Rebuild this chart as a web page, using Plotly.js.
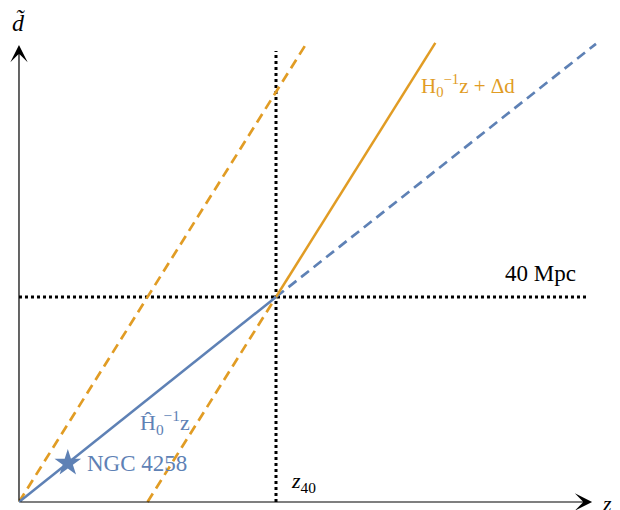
<!DOCTYPE html>
<html>
<head>
<meta charset="utf-8">
<script src="https://cdn.plot.ly/plotly-3.0.1.min.js"></script>
<style>body{margin:0;background:#fff}</style>
</head>
<body>
<div id="chart" style="width:620px;height:510px"></div>
<script>
// units: z in z40, d in 40 Mpc
const blueSolidZ = [0, 1];
const blueSolidD = [0, 1];
const blueDashZ = [1, 2.245];
const blueDashD = [1, 2.235];
const orangeSolidZ = [1, 1.62];
const orangeSolidD = [1, 2.24];
const orangeDashRightZ = [0.5, 1];
const orangeDashRightD = [0, 1];
const orangeDashLeftZ = [0, 1.12];
const orangeDashLeftD = [0, 2.24];
const vDotZ = [1, 1];
const vDotD = [0, 2.2];
const hDotZ = [0, 2.215];
const hDotD = [1, 1];
const ngcZ = [0.19];
const ngcD = [0.19];

const blue = '#5E81B5';
const orange = '#E19C24';
const serif = 'Liberation Serif, Times New Roman, serif';

const data = [
  { x: vDotZ, y: vDotD, mode: 'lines', line: { color: '#000', width: 3, dash: 'dot' } },
  { x: hDotZ, y: hDotD, mode: 'lines', line: { color: '#000', width: 3, dash: 'dot' } },
  { x: orangeDashLeftZ, y: orangeDashLeftD, mode: 'lines', line: { color: orange, width: 2.7, dash: '10px,6px' } },
  { x: orangeDashRightZ, y: orangeDashRightD, mode: 'lines', line: { color: orange, width: 2.7, dash: '10px,6px' } },
  { x: blueDashZ, y: blueDashD, mode: 'lines', line: { color: blue, width: 2.7, dash: '10px,6px' } },
  { x: orangeSolidZ, y: orangeSolidD, mode: 'lines', line: { color: orange, width: 2.5 } },
  { x: blueSolidZ, y: blueSolidD, mode: 'lines', line: { color: blue, width: 2.5 } },
  { x: ngcZ, y: ngcD, mode: 'markers', marker: { symbol: 'star', size: 20, color: blue } }
];

function label(x, y, text, color, size, xanchor) {
  return { x: x, y: y, text: text, showarrow: false, xanchor: xanchor || 'left', yanchor: 'middle',
    font: { family: serif, size: size || 21, color: color || '#000' } };
}

const annotations = [
  // axes with arrowheads
  { x: 2.23, y: 0, ax: 0, ay: 0, axref: 'x', ayref: 'y', text: '', showarrow: true,
    arrowhead: 3, arrowsize: 2.4, arrowwidth: 1.2, arrowcolor: '#000', standoff: 0 },
  { x: 0, y: 2.229, ax: 0, ay: 0, axref: 'x', ayref: 'y', text: '', showarrow: true,
    arrowhead: 3, arrowsize: 2.4, arrowwidth: 1.2, arrowcolor: '#000', standoff: 0 },
  label(0, 2.34, '<i>d̃</i>', '#000', 24, 'center'),
  label(2.288, -0.005, '<i>z</i>', '#000', 22, 'center'),
  label(1.05, 0.1, '<i>z</i><sub>40</sub>', '#000', 22),
  label(1.885, 1.117, '40 Mpc', '#000', 23),
  label(1.556, 2.034, 'H<sub>0</sub><sup>−1</sup>z + Δd', orange, 21),
  label(0.463, 0.39, 'Ĥ<sub>0</sub><sup>−1</sup>z', blue, 22),
  label(0.255, 0.19, 'NGC 4258', blue, 23)
];

const layout = {
  width: 620, height: 510,
  margin: { l: 0, r: 0, t: 0, b: 0 },
  paper_bgcolor: '#fff', plot_bgcolor: '#fff',
  showlegend: false,
  xaxis: { range: [-0.0739, 2.3385], visible: false, fixedrange: true },
  yaxis: { range: [-0.039, 2.4488], visible: false, fixedrange: true },
  annotations: annotations
};

Plotly.newPlot('chart', data, layout, { displayModeBar: false, staticPlot: true });
</script>
</body>
</html>
